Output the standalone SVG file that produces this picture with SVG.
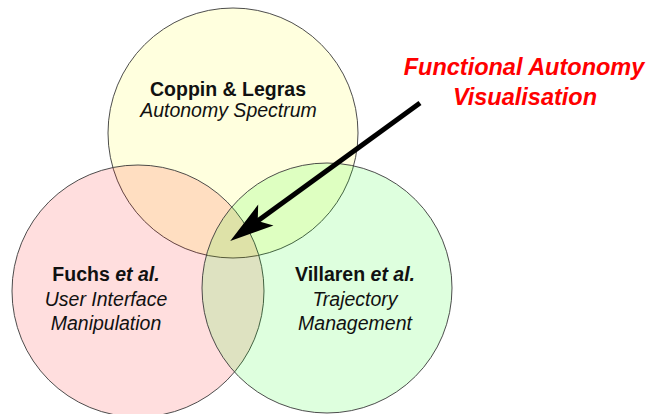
<svg xmlns="http://www.w3.org/2000/svg" width="650" height="414" viewBox="0 0 650 414">
  <style>
    .set { stroke: #3a3a3a; stroke-width: 1; stroke-opacity: 0.9; }
    .yellow { fill: #ffff00; fill-opacity: 0.13; }
    .pink { fill: #ff0000; fill-opacity: 0.13; }
    .green { fill: #00ff00; fill-opacity: 0.13; }
    text { font-family: "Liberation Sans", Arial, sans-serif; font-size: 19.5px; fill: #111; text-anchor: middle; }
    .b { font-weight: bold; }
    .i { font-style: italic; }
    .red { fill: #ff0000; font-weight: bold; font-style: italic; font-size: 23.5px; }
    .arrow { stroke: #000; stroke-width: 5; fill: none; }
  </style>
  <defs>
    <marker id="head" markerUnits="userSpaceOnUse" orient="auto" markerWidth="50" markerHeight="30" viewBox="-16 -15 50 30" refX="0" refY="0">
      <path d="M30,0 L-14,-13 L-4,0 L-14,13 Z" fill="#000"/>
    </marker>
  </defs>
  <rect width="650" height="414" fill="#fff"/>
  <g id="coppin">
    <circle class="set yellow" cx="233" cy="133" r="125"/>
    <text x="228" y="96" class="b">Coppin &amp; Legras</text>
    <text x="228.5" y="117" class="i">Autonomy Spectrum</text>
  </g>
  <g id="fuchs">
    <circle class="set pink" cx="138" cy="291" r="126"/>
    <text x="106" y="281" class="b">Fuchs <tspan class="i">et al.</tspan></text>
    <text x="106" y="305.5" class="i">User Interface</text>
    <text x="106" y="330" class="i">Manipulation</text>
  </g>
  <g id="villaren">
    <circle class="set green" cx="327" cy="288" r="125"/>
    <text x="355" y="281" class="b">Villaren <tspan class="i">et al.</tspan></text>
    <text x="355" y="305.5" class="i">Trajectory</text>
    <text x="355" y="330" class="i">Management</text>
  </g>
  <g id="label">
    <text x="524" y="75" class="red">Functional Autonomy</text>
    <text x="525" y="104.5" class="red">Visualisation</text>
  </g>
  <g id="connectors">
    <line class="arrow" x1="420" y1="103" x2="254.5" y2="223.3" marker-end="url(#head)"/>
  </g>
</svg>
